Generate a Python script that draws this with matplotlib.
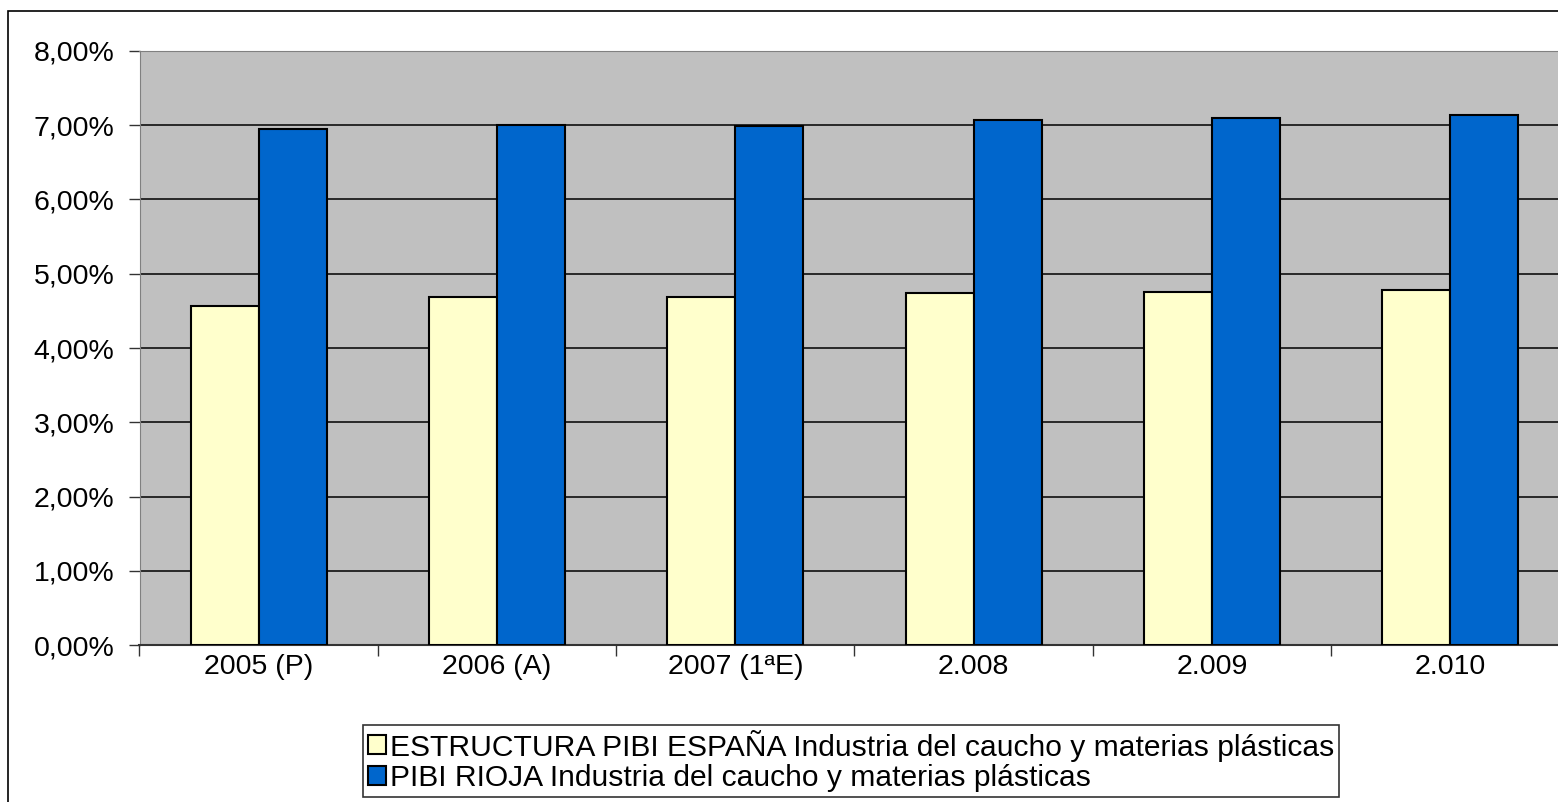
import matplotlib.pyplot as plt
import numpy as np
from matplotlib.patches import Rectangle
from matplotlib.ticker import FuncFormatter

# Data (percent)
years = ['2005 (P)', '2006 (A)', '2007 (1ªE)', '2.008', '2.009', '2.010']
espana = [4.56, 4.68, 4.69, 4.74, 4.76, 4.78]
rioja = [6.95, 7.00, 6.99, 7.07, 7.10, 7.13]
series_names = ['ESTRUCTURA PIBI ESPAÑA Industria del caucho y materias plásticas',
                'PIBI RIOJA Industria del caucho y materias plásticas']

plt.rcParams['font.family'] = ['Liberation Sans', 'DejaVu Sans']

fig = plt.figure(figsize=(15.58, 8.02), dpi=100)
ax = fig.add_axes([139.5 / 1558, 1 - 645.3 / 802, 1430 / 1558, (645.3 - 50.7) / 802])

# outer chart border (runs off the right/bottom edge in the original)
fig.patches.append(Rectangle((8 / 1558, -0.1), 1.2, 1.1 - 10.5 / 802,
                             transform=fig.transFigure, fill=False,
                             edgecolor='black', linewidth=1.2))

x = np.arange(len(years))
w = 1 / 3.5
ax.bar(x - w / 2, espana, w, color='#FFFFCC', edgecolor='black', linewidth=1.5,
       label=series_names[0], zorder=3)
ax.bar(x + w / 2, rioja, w, color='#0066CC', edgecolor='black', linewidth=1.5,
       label=series_names[1], zorder=3)

ax.set_facecolor('#C0C0C0')
ax.set_xlim(-0.5, len(years) - 0.5)
ax.set_ylim(0, 8)
ax.set_yticks(np.arange(0, 9, 1))
ax.yaxis.set_major_formatter(FuncFormatter(lambda v, p: f'{v:.2f}%'.replace('.', ',')))
ax.yaxis.grid(True, color='black', linewidth=1.1, zorder=1)
ax.set_axisbelow(True)

ax.set_xticks(x)
ax.set_xticklabels(years)
ax.set_xticks(np.arange(-0.5, len(years), 1), minor=True)
ax.tick_params(axis='x', which='major', length=0, pad=6, labelsize=20.5)
ax.tick_params(axis='x', which='minor', length=8, width=1, color='#333333')
ax.tick_params(axis='y', length=8, width=1, color='#333333', pad=10, labelsize=20.5)

for s in ['left', 'top', 'right']:
    ax.spines[s].set_color('#808080')
ax.spines['bottom'].set_color('#333333')
ax.spines['bottom'].set_linewidth(1.5)

leg = ax.legend(loc='upper left', bbox_to_anchor=(363 / 1558, 1 - 725 / 802),
                bbox_transform=fig.transFigure, fontsize=21.6, frameon=True,
                fancybox=False, edgecolor='#333333', framealpha=1,
                handlelength=0.6, handleheight=0.6, handletextpad=0.15,
                borderpad=0.15, labelspacing=0.1, borderaxespad=0)
leg.get_frame().set_linewidth(1.2)

fig.savefig('out.png', dpi=100, facecolor='white')
